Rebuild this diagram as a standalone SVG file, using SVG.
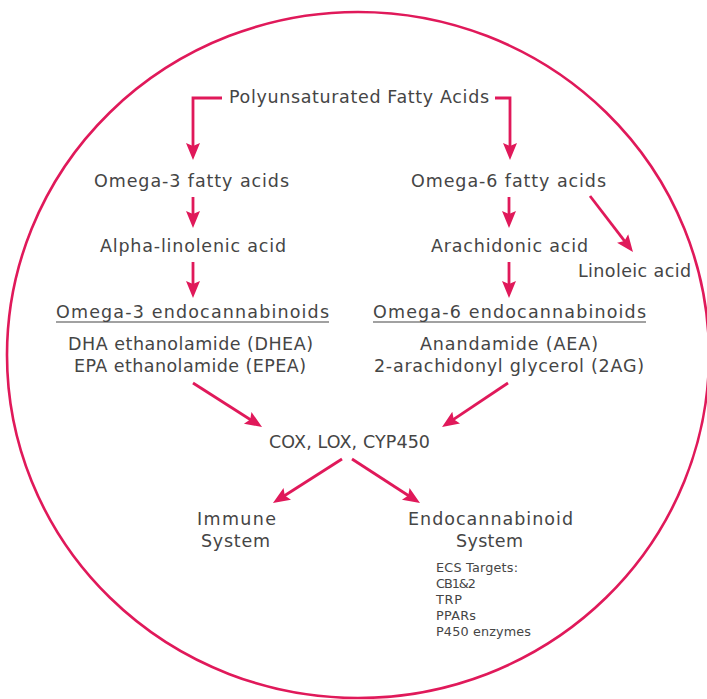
<svg xmlns="http://www.w3.org/2000/svg" width="707" height="699" viewBox="0 0 707 699">
<defs>
<style>
.t{font-family:"DejaVu Sans","Open Sans",sans-serif;font-size:17.5px;fill:#454545;text-anchor:middle}
.s{font-family:"DejaVu Sans","Open Sans",sans-serif;font-size:12.8px;fill:#454545}
.c{fill:none;stroke:#E0195A;stroke-width:2.6}
.a{fill:none;stroke:#E0195A;stroke-width:2.8;marker-end:url(#ah)}
</style>
<marker id="ah" markerUnits="userSpaceOnUse" markerWidth="18" markerHeight="16" refX="9" refY="7" orient="auto" viewBox="0 0 18 14">
<path d="M0,0 L17,7 L0,14 L3,7 z" fill="#E0195A"/>
</marker>
</defs>
<rect width="707" height="699" fill="#fff"/>
<ellipse class="c" cx="358" cy="355" rx="351" ry="343"/>
<g id="connectors">
<path class="a" d="M222,98 H193 V152"/>
<path class="a" d="M495,98 H510 V152"/>
<path class="a" d="M193,197 V220"/>
<path class="a" d="M193,262 V290"/>
<path class="a" d="M509,197 V220"/>
<path class="a" d="M509,262 V290"/>
<path class="a" d="M590,196 L628.1,245.7"/>
<path class="a" d="M193,383 L255.3,422.7"/>
<path class="a" d="M508,383 L448.7,422.6"/>
<path class="a" d="M342,459 L279.7,498.7"/>
<path class="a" d="M352,459 L413.3,498.7"/>
</g>
<g id="pufa"><text class="t" x="359" y="103" textLength="260">Polyunsaturated Fatty Acids</text></g>
<g id="omega3"><text class="t" x="191.5" y="187" textLength="195">Omega-3 fatty acids</text></g>
<g id="omega6"><text class="t" x="508.5" y="187" textLength="195">Omega-6 fatty acids</text></g>
<g id="ala"><text class="t" x="193" y="252" textLength="186">Alpha-linolenic acid</text></g>
<g id="aa"><text class="t" x="509.5" y="252" textLength="157">Arachidonic acid</text></g>
<g id="la"><text class="t" x="634.5" y="277" textLength="113">Linoleic acid</text></g>
<g id="omega3-endo">
<text class="t" x="192.5" y="318" textLength="273">Omega-3 endocannabinoids</text>
<line x1="56" y1="322" x2="329" y2="322" stroke="#454545" stroke-width="1.2"/>
<text class="t" x="190.5" y="350" textLength="245">DHA ethanolamide (DHEA)</text>
<text class="t" x="190" y="372" textLength="232">EPA ethanolamide (EPEA)</text>
</g>
<g id="omega6-endo">
<text class="t" x="509.5" y="318" textLength="273">Omega-6 endocannabinoids</text>
<line x1="373" y1="322" x2="646" y2="322" stroke="#454545" stroke-width="1.2"/>
<text class="t" x="509" y="350" textLength="178">Anandamide (AEA)</text>
<text class="t" x="509" y="372" textLength="270">2-arachidonyl glycerol (2AG)</text>
</g>
<g id="enzymes"><text class="t" x="349.5" y="448" textLength="161">COX, LOX, CYP450</text></g>
<g id="immune">
<text class="t" x="236.5" y="525" textLength="79">Immune</text>
<text class="t" x="235.5" y="547" textLength="69">System</text>
</g>
<g id="ecs">
<text class="t" x="490.5" y="525" textLength="165">Endocannabinoid</text>
<text class="t" x="489.5" y="547" textLength="67">System</text>
</g>
<g id="ecs-targets">
<text class="s" x="436" y="572" textLength="82">ECS Targets:</text>
<text class="s" x="436" y="588" textLength="40">CB1&amp;2</text>
<text class="s" x="436" y="604" textLength="26">TRP</text>
<text class="s" x="436" y="620" textLength="40">PPARs</text>
<text class="s" x="436" y="636" textLength="95">P450 enzymes</text>
</g>
</svg>
